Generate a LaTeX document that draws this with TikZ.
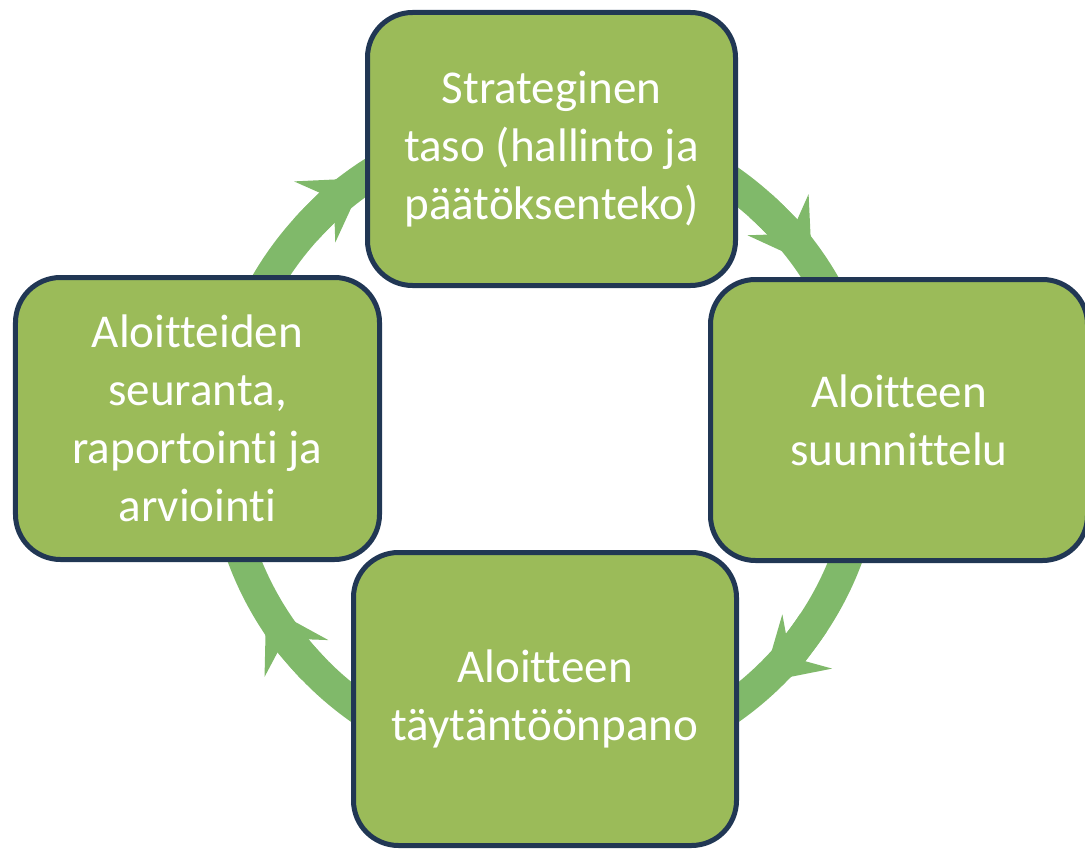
\documentclass[tikz,border=0pt]{standalone}
\usepackage{fontspec}
\setmainfont{Carlito}[Ligatures=NoCommon]
\usetikzlibrary{calc,arrows.meta}
\definecolor{boxgreen}{RGB}{155,187,89}
\definecolor{boxline}{RGB}{33,55,84}
\definecolor{ringgreen}{RGB}{128,185,106}
\tikzset{
  stage/.style={draw=boxline, line width=1mm, fill=boxgreen, rounded corners=9mm,
    text=white, align=center, inner sep=0pt, font=\fontsize{26.8}{33}\selectfont},
  ring/.style={draw=ringgreen, line width=6.4mm},
  ringtip/.style={ring, -{Stealth[length=12mm,width=14.5mm,inset=4.5mm]}}
}

\begin{document}
\begin{tikzpicture}
  %%%%% START %%%%%
  \useasboundingbox (0,0) rectangle (21.7,-17);

  % kierto taustalla
  \coordinate (kesk) at (10.9,-8.9);
  \draw[ring] (kesk) circle (6.44);
  \foreach \a in {124,34,-47.5,-150} {
    \draw[ringtip] ($(kesk)+(\a+14:6.44)$) arc (\a+14:\a:6.44);
  }

  % vaiheet
  \node[stage, minimum width=7.36cm, minimum height=5.46cm] (strat) at (11.03,-2.98)
    {Strateginen\\taso (hallinto ja\\päätöksenteko)};
  \node[stage, minimum width=7.54cm, minimum height=5.62cm] (suunn) at (17.98,-8.4)
    {Aloitteen\\suunnittelu};
  \node[stage, minimum width=7.66cm, minimum height=5.86cm] (toteutus) at (10.9,-13.98)
    {Aloitteen\\täytäntöönpano};
  \node[stage, minimum width=7.28cm, minimum height=5.64cm] (seuranta) at (3.95,-8.37)
    {Aloitteiden\\seuranta,\\raportointi ja\\arviointi};
  %%%%% END %%%%%
\end{tikzpicture}
\end{document}
